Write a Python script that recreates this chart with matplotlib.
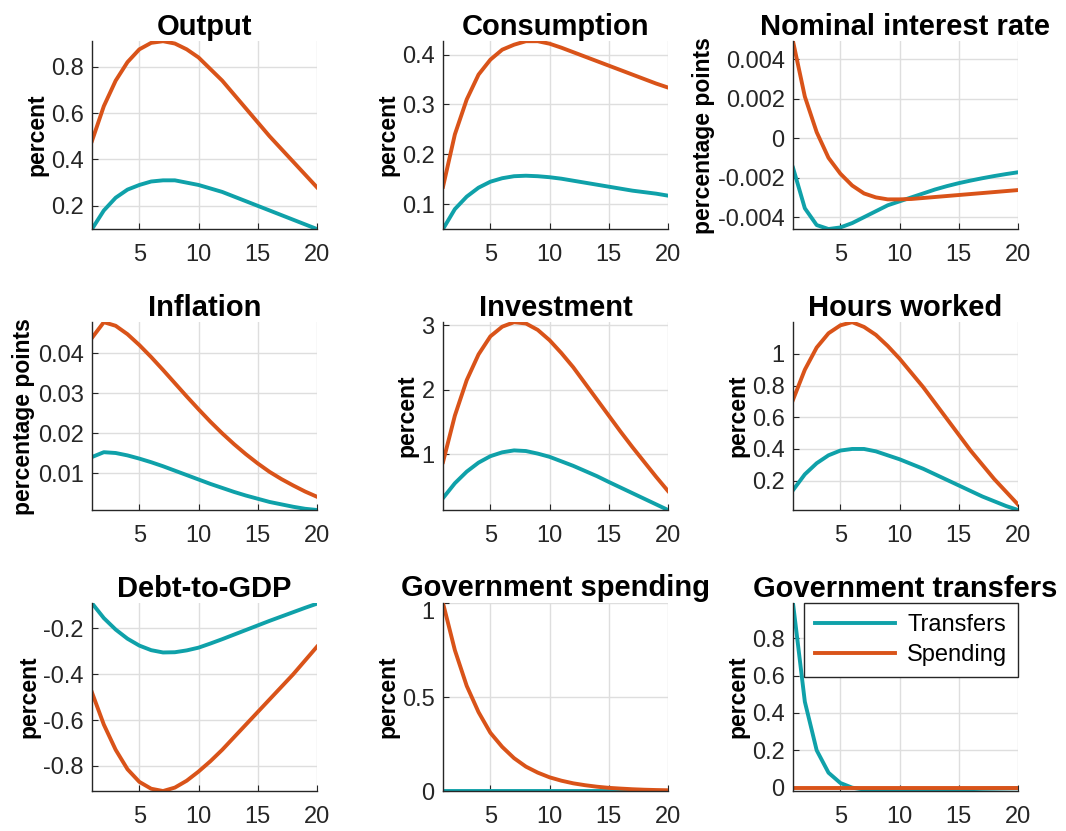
import matplotlib
matplotlib.use("Agg")
import matplotlib.pyplot as plt
import matplotlib.transforms as mtransforms
from matplotlib.ticker import FuncFormatter

plt.rcParams['font.family'] = ['Liberation Sans', 'DejaVu Sans']

periods = list(range(1, 21))

# impulse responses: transfers shock vs spending shock
output_tr = [0.10, 0.18, 0.235, 0.27, 0.29, 0.305, 0.31, 0.31, 0.30, 0.29,
             0.275, 0.26, 0.24, 0.22, 0.20, 0.18, 0.16, 0.14, 0.12, 0.10]
output_sp = [0.48, 0.63, 0.74, 0.82, 0.875, 0.903, 0.91, 0.90, 0.875, 0.84,
             0.79, 0.74, 0.68, 0.62, 0.56, 0.50, 0.445, 0.39, 0.335, 0.28]

cons_tr = [0.05, 0.09, 0.115, 0.133, 0.145, 0.152, 0.156, 0.157, 0.156, 0.154,
           0.151, 0.147, 0.143, 0.139, 0.135, 0.131, 0.127, 0.124, 0.121, 0.117]
cons_sp = [0.135, 0.24, 0.31, 0.36, 0.39, 0.41, 0.42, 0.427, 0.427, 0.422,
           0.414, 0.405, 0.396, 0.387, 0.378, 0.369, 0.36, 0.351, 0.342, 0.334]

rate_tr = [-0.0015, -0.00355, -0.0044, -0.0046, -0.00452, -0.0043, -0.0040, -0.0037,
           -0.0034, -0.0032, -0.0030, -0.0028, -0.0026, -0.00243, -0.00228, -0.00215,
           -0.00203, -0.00192, -0.00182, -0.00173]
rate_sp = [0.0049, 0.0021, 0.0003, -0.001, -0.0018, -0.0024, -0.0028, -0.003,
           -0.0031, -0.0031, -0.00308, -0.00303, -0.00298, -0.00293, -0.00288,
           -0.00283, -0.00278, -0.00273, -0.00268, -0.00263]

infl_tr = [0.0141, 0.0153, 0.0151, 0.0145, 0.0137, 0.0128, 0.0118, 0.0107, 0.0096, 0.0085,
           0.0074, 0.0064, 0.0054, 0.0045, 0.0037, 0.0029, 0.0023, 0.0017, 0.0012, 0.0009]
infl_sp = [0.0438, 0.0477, 0.0468, 0.0447, 0.0420, 0.0390, 0.0358, 0.0325, 0.0292, 0.0260,
           0.0229, 0.0200, 0.0173, 0.0148, 0.0125, 0.0104, 0.0086, 0.0070, 0.0055, 0.0042]

inv_tr = [0.32, 0.55, 0.73, 0.87, 0.97, 1.03, 1.06, 1.05, 1.01, 0.96,
          0.89, 0.82, 0.74, 0.66, 0.57, 0.483, 0.396, 0.309, 0.222, 0.135]
inv_sp = [0.88, 1.6, 2.15, 2.55, 2.83, 2.98, 3.05, 3.03, 2.93, 2.77,
          2.57, 2.35, 2.1, 1.85, 1.6, 1.35, 1.11, 0.88, 0.65, 0.43]

hours_tr = [0.14, 0.24, 0.31, 0.36, 0.39, 0.40, 0.40, 0.385, 0.36, 0.335,
            0.305, 0.275, 0.24, 0.205, 0.17, 0.135, 0.10, 0.07, 0.04, 0.015]
hours_sp = [0.71, 0.9, 1.04, 1.13, 1.18, 1.2, 1.17, 1.12, 1.05, 0.97,
            0.88, 0.79, 0.69, 0.59, 0.49, 0.39, 0.30, 0.21, 0.13, 0.05]

debt_tr = [-0.09, -0.155, -0.205, -0.245, -0.275, -0.295, -0.305, -0.304, -0.296, -0.284,
           -0.266, -0.247, -0.227, -0.207, -0.187, -0.167, -0.148, -0.129, -0.110, -0.092]
debt_sp = [-0.48, -0.62, -0.73, -0.815, -0.87, -0.9, -0.91, -0.895, -0.865, -0.825,
           -0.78, -0.73, -0.675, -0.62, -0.565, -0.51, -0.455, -0.4, -0.34, -0.28]

gov_tr = [0.0] * 20
gov_sp = [1.0, 0.75, 0.56, 0.42, 0.31, 0.235, 0.175, 0.13, 0.098, 0.073,
          0.055, 0.041, 0.031, 0.023, 0.017, 0.013, 0.0095, 0.007, 0.0053, 0.004]

transf_tr = [0.987, 0.46, 0.2, 0.08, 0.025, 0.0, -0.010, -0.015, -0.018, -0.018,
             -0.017, -0.015, -0.013, -0.011, -0.009, -0.008, -0.006, -0.005, -0.004, -0.003]
transf_sp = [0.0] * 20

titles = ['Output', 'Consumption', 'Nominal interest rate',
          'Inflation', 'Investment', 'Hours worked',
          'Debt-to-GDP', 'Government spending', 'Government transfers']
ylabels = ['percent', 'percent', 'percentage points',
           'percentage points', 'percent', 'percent',
           'percent', 'percent', 'percent']
yticks = [[0.2, 0.4, 0.6, 0.8], [0.1, 0.2, 0.3, 0.4], [-0.004, -0.002, 0, 0.002, 0.004],
          [0.01, 0.02, 0.03, 0.04], [1, 2, 3], [0.2, 0.4, 0.6, 0.8, 1],
          [-0.8, -0.6, -0.4, -0.2], [0, 0.5, 1], [0, 0.2, 0.4, 0.6, 0.8]]
xticks = [5, 10, 15, 20]

series = [(output_tr, output_sp), (cons_tr, cons_sp), (rate_tr, rate_sp),
          (infl_tr, infl_sp), (inv_tr, inv_sp), (hours_tr, hours_sp),
          (debt_tr, debt_sp), (gov_tr, gov_sp), (transf_tr, transf_sp)]

teal = '#0fa1a9'
orange = '#d95319'
dark = '#262626'

fig = plt.figure(figsize=(10.66, 8.31), dpi=100)

col_left = [0.0863, 0.4156, 0.7439]
row_bottom = [0.7244, 0.3863, 0.0481]
w, h = 0.211, 0.226

for i, (tr, sp) in enumerate(series):
    r, c = divmod(i, 3)
    ax = fig.add_axes([col_left[c], row_bottom[r], w, h])
    ax.plot(periods, tr, color=teal, lw=2.8, label='Transfers')
    ax.plot(periods, sp, color=orange, lw=2.8, label='Spending')
    lo = min(min(tr), min(sp))
    hi = max(max(tr), max(sp))
    ax.set_xlim(1, 20)
    ax.set_ylim(lo, hi)
    ax.set_xticks(xticks)
    ax.set_yticks(yticks[i])
    ax.yaxis.set_major_formatter(FuncFormatter(lambda v, p: '%g' % round(v, 6)))
    ax.grid(True, color='#dedede', lw=1.0)
    ax.set_axisbelow(True)
    for s in ['top', 'right']:
        ax.spines[s].set_visible(False)
    for s in ['left', 'bottom']:
        ax.spines[s].set_color(dark)
        ax.spines[s].set_linewidth(1.0)
    ax.tick_params(direction='in', length=4, width=0.8, colors=dark, labelsize=17)
    ax.tick_params(axis='x', pad=11)
    ax.tick_params(axis='y', pad=6)
    ax.set_title(titles[i], fontsize=21, fontweight='bold', pad=5 if i == 7 else 4)
    ax.set_ylabel(ylabels[i], fontsize=16.5, fontweight='bold', labelpad=2)
    if i == 7:
        # nudge the top "1" label down so it clears the title
        top = ax.get_yticklabels()[-1]
        shift = mtransforms.ScaledTranslation(0, -5 / 72, fig.dpi_scale_trans)
        top.set_transform(top.get_transform() + shift)
    if i == 8:
        leg = ax.legend(loc='upper right', fontsize=17, frameon=True, fancybox=False,
                        borderaxespad=0, handlelength=3.4, borderpad=0.45,
                        labelspacing=0.35, handletextpad=0.5)
        leg.get_frame().set_edgecolor(dark)
        leg.get_frame().set_linewidth(1.0)
        leg.get_frame().set_alpha(1)

fig.savefig('out.png', dpi=100)
